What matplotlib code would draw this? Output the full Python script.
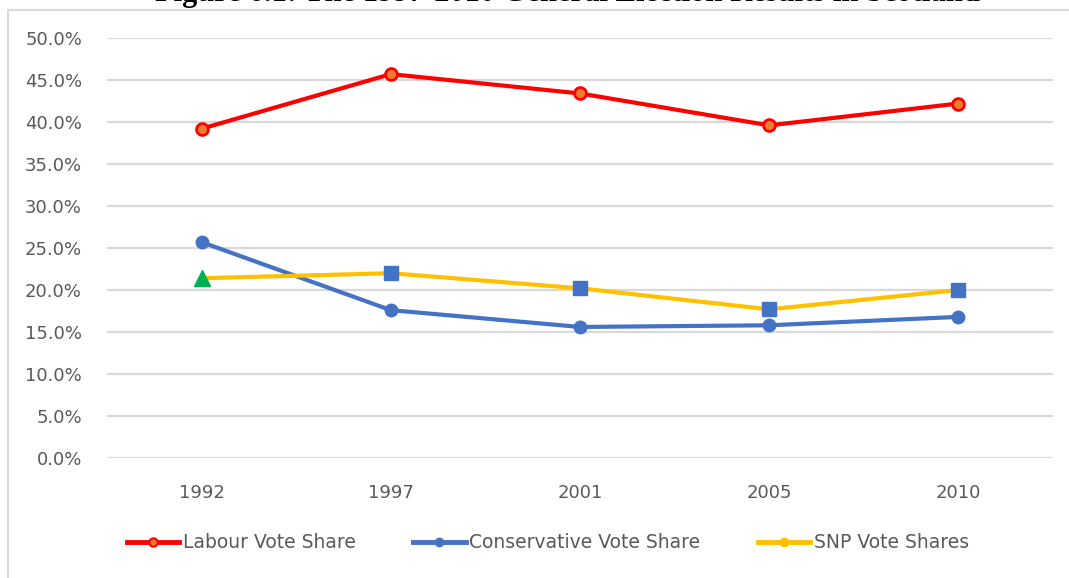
import matplotlib
matplotlib.use("Agg")
import matplotlib.pyplot as plt
from matplotlib.lines import Line2D
from matplotlib.patches import Rectangle
from matplotlib.ticker import PercentFormatter

years = ["1992", "1997", "2001", "2005", "2010"]
labour = [39.2, 45.7, 43.4, 39.6, 42.2]
conservative = [25.7, 17.6, 15.6, 15.8, 16.8]
snp = [21.4, 22.0, 20.2, 17.7, 20.0]
yticks = [0, 5, 10, 15, 20, 25, 30, 35, 40, 45, 50]
title = "Figure 6.1: The 1997-2010 General Election Results in Scotland"

RED = "#FF0000"
ORANGE = "#ED7D31"
BLUE = "#4472C4"
YELLOW = "#FFC000"
GREEN = "#00B050"
GRID = "#D9D9D9"
TXT = "#595959"
FONT = "DejaVu Sans"

fig = plt.figure(figsize=(10.69, 5.78), dpi=100)
fig.patch.set_facecolor("white")

# chart border (clipped at right/bottom as in reference)
fig.patches.append(Rectangle((8 / 1069, -0.05), 1.1, 1 - 10 / 578 + 0.05,
                             transform=fig.transFigure, fill=False,
                             edgecolor=GRID, linewidth=1.5))

fig.text(155 / 1069, 1 - 1.5 / 578, title, ha="left", va="baseline",
         fontsize=22, fontweight="bold", family="Liberation Serif", color="black")

ax = fig.add_axes([107 / 1069, 1 - 458 / 578, 946 / 1069, 420 / 578])
x = list(range(len(years)))

ax.plot(x, labour, color=RED, linewidth=3, marker="o", markersize=8.5,
        markerfacecolor=ORANGE, markeredgecolor=RED, markeredgewidth=2, zorder=4)
ax.plot(x, conservative, color=BLUE, linewidth=3, marker="o", markersize=9,
        markerfacecolor=BLUE, markeredgecolor=BLUE, zorder=3)
ax.plot(x, snp, color=YELLOW, linewidth=3, zorder=3)
ax.plot(x[:1], snp[:1], linestyle="none", marker="^", markersize=12,
        color=GREEN, zorder=5)
ax.plot(x[1:], snp[1:], linestyle="none", marker="s", markersize=10,
        color=BLUE, zorder=5)

ax.set_xlim(-0.5, len(years) - 0.5)
ax.set_ylim(0, 50)
ax.set_yticks(yticks)
ax.yaxis.set_major_formatter(PercentFormatter(decimals=1))
ax.set_xticks(x)
ax.set_xticklabels(years)
ax.grid(axis="y", color=GRID, linewidth=1.6)
ax.set_axisbelow(True)
for s in ax.spines.values():
    s.set_visible(False)
ax.tick_params(axis="both", length=0, colors=TXT, labelsize=13)
ax.tick_params(axis="y", pad=18)
ax.tick_params(axis="x", pad=19)
for lab in ax.get_xticklabels() + ax.get_yticklabels():
    lab.set_family(FONT)

handles = [
    Line2D([], [], color=RED, linewidth=3.5, marker="o", markersize=6,
           markerfacecolor=ORANGE, markeredgecolor=RED, markeredgewidth=1.5),
    Line2D([], [], color=BLUE, linewidth=3.5, marker="o", markersize=6),
    Line2D([], [], color=YELLOW, linewidth=3.5, marker="o", markersize=6),
]
labels = ["Labour Vote Share", "Conservative Vote Share", "SNP Vote Shares"]
leg = fig.legend(handles, labels, loc="center", ncol=3,
                 bbox_to_anchor=(548 / 1069, 1 - 543 / 578), frameon=False,
                 prop={"family": FONT, "size": 13.5}, handlelength=2.8,
                 handletextpad=0.2, columnspacing=3.05)
for t in leg.get_texts():
    t.set_color(TXT)

fig.savefig("out.png", dpi=100, facecolor="white")
